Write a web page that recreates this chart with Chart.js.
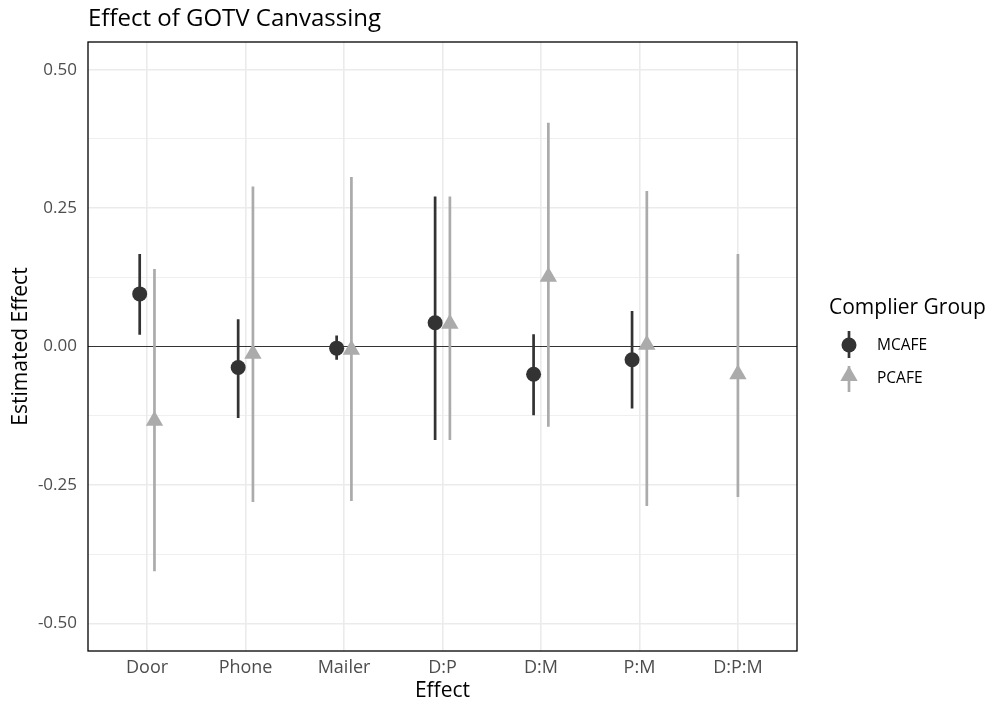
<!DOCTYPE html>
<html>
<head>
<meta charset="utf-8">
<script src="https://cdn.jsdelivr.net/npm/chart.js@4"></script>
<style>
  html, body { margin: 0; padding: 0; background: #fff; }
  #chart { display: block; }
</style>
</head>
<body>
<canvas id="chart" width="990" height="704"></canvas>
<script>
// 데이터
const categories = ['Door', 'Phone', 'Mailer', 'D:P', 'D:M', 'P:M', 'D:P:M'];
const mcafeEst  = [0.095, -0.038, -0.003, 0.043, -0.050, -0.024, null];
const mcafeLow  = [0.021, -0.129, -0.024, -0.169, -0.124, -0.112, null];
const mcafeHigh = [0.167, 0.049, 0.020, 0.271, 0.022, 0.064, null];
const pcafeEst  = [-0.134, -0.013, -0.006, 0.041, 0.126, 0.003, -0.050];
const pcafeLow  = [-0.406, -0.281, -0.279, -0.169, -0.145, -0.288, -0.272];
const pcafeHigh = [0.140, 0.289, 0.306, 0.271, 0.404, 0.281, 0.167];
const yTickValues = [-0.5, -0.25, 0, 0.25, 0.5];
const yTickLabels = ['-0.50', '-0.25', '0.00', '0.25', '0.50'];
const yMinorValues = [-0.375, -0.125, 0.125, 0.375];
const groupNames = ['MCAFE', 'PCAFE'];

const DARK = '#333333';
const LIGHT = '#ababab';
const DODGE = 0.075;

// dodge 위치 (한 그룹만 있으면 가운데)
function xPos(i, side) {
    const both = mcafeEst[i] !== null && pcafeEst[i] !== null;
    return i + 1 + (both ? side * DODGE : 0);
}

function pointData(est, side) {
    return est.map((v, i) => v === null ? null : { x: xPos(i, side), y: v }).filter(p => p);
}

function rangeData(est, low, high, side) {
    const out = [];
    est.forEach((v, i) => {
        if (v === null) return;
        out.push({ x: xPos(i, side), y: low[i] });
        out.push({ x: xPos(i, side), y: high[i] });
        out.push({ x: xPos(i, side), y: null });
    });
    return out;
}

// 제목, 범례, 테두리
const decorations = {
    id: 'decorations',
    afterDraw(chart) {
        const { ctx, chartArea: a } = chart;
        ctx.save();
        ctx.strokeStyle = '#000';
        ctx.lineWidth = 1.3;
        ctx.strokeRect(a.left, a.top, a.right - a.left, a.bottom - a.top);

        ctx.fillStyle = '#000';
        ctx.textAlign = 'left';
        ctx.textBaseline = 'alphabetic';
        ctx.font = '24px "Open Sans"';
        ctx.fillText('Effect of GOTV Canvassing', 88, 26);

        ctx.font = '21px "Open Sans"';
        ctx.fillText('Complier Group', 829, 314);

        ctx.font = '15.5px "Open Sans"';
        ctx.textBaseline = 'middle';
        const gx = 849;
        // MCAFE
        ctx.strokeStyle = DARK; ctx.fillStyle = DARK; ctx.lineWidth = 2.7;
        ctx.beginPath(); ctx.moveTo(gx, 331); ctx.lineTo(gx, 358); ctx.stroke();
        ctx.beginPath(); ctx.arc(gx, 345, 7.5, 0, Math.PI * 2); ctx.fill();
        // PCAFE
        ctx.strokeStyle = LIGHT; ctx.fillStyle = LIGHT;
        ctx.beginPath(); ctx.moveTo(gx, 366); ctx.lineTo(gx, 392); ctx.stroke();
        const r = 10, cy = 376;
        ctx.beginPath();
        ctx.moveTo(gx, cy - r);
        ctx.lineTo(gx + r * Math.sqrt(3) / 2, cy + r / 2);
        ctx.lineTo(gx - r * Math.sqrt(3) / 2, cy + r / 2);
        ctx.closePath(); ctx.fill();

        ctx.fillStyle = '#000';
        ctx.fillText(groupNames[0], 877, 346);
        ctx.fillText(groupNames[1], 877, 379);
        ctx.restore();
    }
};

Chart.defaults.font.family = '"Open Sans", sans-serif';

new Chart(document.getElementById('chart'), {
    type: 'scatter',
    data: {
        datasets: [
            {
                type: 'line', label: 'MCAFE range', order: 4,
                data: rangeData(mcafeEst, mcafeLow, mcafeHigh, -1),
                borderColor: DARK, borderWidth: 2.7, pointRadius: 0, spanGaps: false, fill: false
            },
            {
                label: groupNames[0], order: 3,
                data: pointData(mcafeEst, -1),
                pointStyle: 'circle', pointRadius: 7.5, backgroundColor: DARK, borderWidth: 0
            },
            {
                type: 'line', label: 'PCAFE range', order: 2,
                data: rangeData(pcafeEst, pcafeLow, pcafeHigh, 1),
                borderColor: LIGHT, borderWidth: 2.7, pointRadius: 0, spanGaps: false, fill: false
            },
            {
                label: groupNames[1], order: 1,
                data: pointData(pcafeEst, 1),
                pointStyle: 'triangle', pointRadius: 10, backgroundColor: LIGHT, borderWidth: 0
            }
        ]
    },
    options: {
        responsive: false,
        animation: false,
        layout: { padding: { left: 0, top: 42, right: 193, bottom: 0 } },
        plugins: { legend: { display: false }, tooltip: { enabled: false } },
        scales: {
            x: {
                type: 'linear', min: 0.4, max: 7.6,
                afterBuildTicks: s => { s.ticks = categories.map((c, i) => ({ value: i + 1 })); },
                afterFit: s => { s.height = 53; },
                ticks: {
                    callback: v => categories[Math.round(v) - 1],
                    font: { size: 18 }, color: '#4d4d4d', padding: 6, maxRotation: 0
                },
                grid: { color: '#ebebeb', lineWidth: 1.6, drawTicks: false },
                border: { display: false },
                title: { display: true, text: 'Effect', font: { size: 21 }, color: '#000', padding: { top: 0, bottom: 0 } }
            },
            y: {
                type: 'linear', min: -0.55, max: 0.55,
                afterBuildTicks: s => {
                    s.ticks = yTickValues.concat(yMinorValues).sort((a, b) => a - b).map(v => ({ value: v }));
                },
                afterFit: s => { s.width = 88; },
                ticks: {
                    callback: v => {
                        const k = yTickValues.indexOf(v);
                        return k >= 0 ? yTickLabels[k] : '';
                    },
                    font: { size: 17 }, color: '#4d4d4d', padding: 11
                },
                grid: {
                    drawTicks: false,
                    color: c => c.tick && c.tick.value === 0 ? '#333333' : '#ebebeb',
                    lineWidth: c => {
                        if (!c.tick) return 1;
                        if (c.tick.value === 0) return 1.1;
                        return yTickValues.includes(c.tick.value) ? 1.6 : 0.8;
                    }
                },
                border: { display: false },
                title: { display: true, text: 'Estimated Effect', font: { size: 21 }, color: '#000', padding: { top: 8, bottom: 0 } }
            }
        }
    },
    plugins: [decorations]
});
</script>
</body>
</html>
